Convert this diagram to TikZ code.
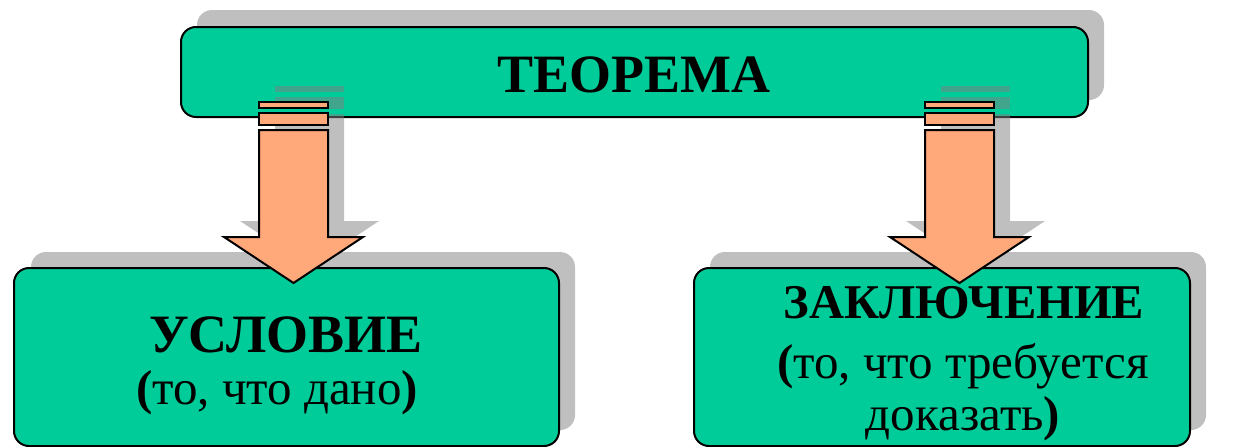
\documentclass[tikz,border=0pt]{standalone}
\usepackage{fontspec}
\setmainfont{Liberation Serif}
\definecolor{boxgreen}{RGB}{0,204,153}
\definecolor{arroworange}{RGB}{255,168,122}
\definecolor{shadowgray}{RGB}{128,128,128}
\tikzset{
  greenbox/.style={fill=boxgreen,draw=black,line width=2pt,rounded corners=15pt},
  boxshadow/.style={fill=shadowgray,fill opacity=0.5,rounded corners=15pt},
  arrowbody/.style={fill=arroworange,draw=black,line width=2pt,line join=miter},
  arrowshadow/.style={fill=shadowgray,fill opacity=0.5},
  boldtext/.style={font=\bfseries\fontsize{54}{60}\selectfont,anchor=base,inner sep=0pt},
  plaintext/.style={font=\fontsize{49}{56}\selectfont,anchor=base,inner sep=0pt},
  pics/blockarrow/.style={code={
    \fill[arrowshadow] (16,-16) rectangle (85,-10);
    \fill[arrowshadow] (16,-5) rectangle (85,7);
    \fill[arrowshadow] (16,12) -- (85,12) -- (85,119) -- (120,119) -- (50.5,165) -- (-19,119) -- (16,119) -- cycle;
    \draw[arrowbody] (0,0) rectangle (69,6);
    \draw[arrowbody] (0,11) rectangle (69,23);
    \draw[arrowbody] (0,28) -- (69,28) -- (69,135) -- (104,135) -- (34.5,181) -- (-35,135) -- (0,135) -- cycle;
  }}
}
\begin{document}
\begin{tikzpicture}[x=1pt,y=-1pt]
\useasboundingbox (0,0) rectangle (1245,447);
% top box
\fill[boxshadow] (197,10) rectangle (1104,100);
\draw[greenbox] (181,27) rectangle (1088,117);
\node[boldtext] (theorem) at (634,92) {ТЕОРЕМА};
% lower boxes
\fill[boxshadow] (31,252) rectangle (575,430);
\fill[boxshadow] (710,252) rectangle (1206,430);
\draw[greenbox] (14,268) rectangle (559,446);
\draw[greenbox] (694,268) rectangle (1190,446);
% arrows
\pic at (259,102) {blockarrow};
\pic at (925,102) {blockarrow};
% texts
\node[boldtext] (cond) at (286,352) {УСЛОВИЕ};
\node[plaintext] (condsub) at (277,404) {\textbf{(}то, что дано\textbf{)}};
\node[boldtext,font=\bfseries\fontsize{48.5}{56}\selectfont] (concl) at (964,318) {ЗАКЛЮЧЕНИЕ};
\node[plaintext] (conclsub1) at (963,378) {\textbf{(}то, что требуется};
\node[plaintext] (conclsub2) at (963,430) {доказать\textbf{)}};
\end{tikzpicture}
\end{document}
